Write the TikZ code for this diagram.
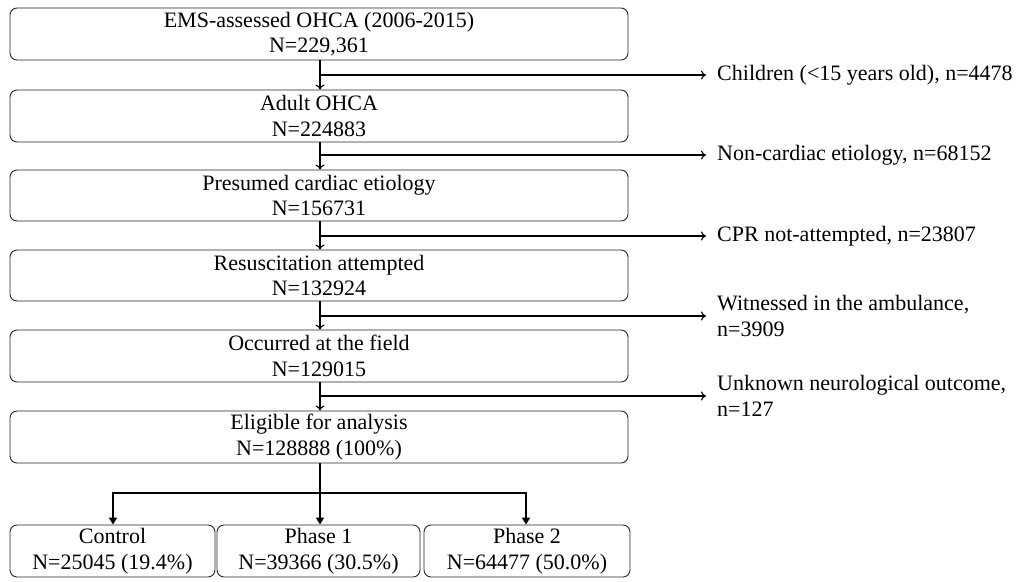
\documentclass[tikz,border=0pt]{standalone}
\usepackage{fontspec}
\setmainfont{Liberation Serif}
\usetikzlibrary{arrows.meta}
\begin{document}
\begin{tikzpicture}[x=1pt,y=-1pt,
  box/.style={draw=black!85, line width=0.9pt, rounded corners=7pt, align=center, inner sep=0pt,
    font=\fontsize{22}{25.5}\selectfont, execute at begin node={\rule{0pt}{24pt}}},
  side/.style={anchor=west, align=left, inner sep=0pt, inner xsep=0pt,
    font=\fontsize{22}{26}\selectfont},
  arr/.style={line width=1.1pt, -{To[length=5pt,width=9pt]}},
  barr/.style={line width=2pt, -{Triangle[length=7pt,width=8pt]}}]
\useasboundingbox (0,0) rectangle (1016,581);
% main boxes
\node[box, minimum width=618pt, minimum height=52pt] (b1) at (319,34) {EMS-assessed OHCA (2006-2015)\\N=229,361};
\node[box, minimum width=618pt, minimum height=52pt] (b2) at (319,116) {Adult OHCA\\N=224883};
\node[box, minimum width=618pt, minimum height=51pt] (b3) at (319,195.5) {Presumed cardiac etiology\\N=156731};
\node[box, minimum width=618pt, minimum height=51pt] (b4) at (319,275.5) {Resuscitation attempted\\N=132924};
\node[box, minimum width=618pt, minimum height=52pt] (b5) at (319,356) {Occurred at the field\\N=129015};
\node[box, minimum width=618pt, minimum height=52pt] (b6) at (319,437) {Eligible for analysis\\N=128888 (100\%)};
% bottom boxes
\node[box, minimum width=205pt, minimum height=52pt] (c1) at (112.5,551) {Control\\N=25045 (19.4\%)};
\node[box, minimum width=203pt, minimum height=52pt] (c2) at (318.5,551) {Phase 1\\N=39366 (30.5\%)};
\node[box, minimum width=206pt, minimum height=52pt] (c3) at (527,551) {Phase 2\\N=64477 (50.0\%)};
% side texts
\node[side] (s1) at (717,75) {Children (<15 years old), n=4478};
\node[side] (s2) at (717,155) {Non-cardiac etiology, n=68152};
\node[side] (s3) at (717,236) {CPR not-attempted, n=23807};
\node[side] (s4) at (717,316) {Witnessed in the ambulance,\\n=3909};
\node[side] (s5) at (717,396) {Unknown neurological outcome,\\n=127};
% junctions
\coordinate (j1) at (320,75);
\coordinate (j2) at (320,155);
\coordinate (j3) at (320,236);
\coordinate (j4) at (320,316);
\coordinate (j5) at (320,396);
\coordinate (sp) at (320,493);
% main flow
\draw[arr] (b1.south -| j1) -- (b2.north -| j1);
\draw[arr] (b2.south -| j1) -- (b3.north -| j1);
\draw[arr] (b3.south -| j1) -- (b4.north -| j1);
\draw[arr] (b4.south -| j1) -- (b5.north -| j1);
\draw[arr] (b5.south -| j1) -- (b6.north -| j1);
% exclusions
\draw[arr] (j1) -- ([xshift=-11pt]s1.west);
\draw[arr] (j2) -- ([xshift=-11pt]s2.west);
\draw[arr] (j3) -- ([xshift=-11pt]s3.west);
\draw[arr] (j4) -- ([xshift=-11pt]s4.west);
\draw[arr] (j5) -- ([xshift=-11pt]s5.west);
% split
\draw[line width=2pt] (b6.south -| sp) -- (sp);
\draw[barr] (sp) -| (c1.north -| 113,0);
\draw[barr] (sp) -- (c2.north -| sp);
\draw[barr] (sp) -| (c3.north -| 526,0);
\end{tikzpicture}
\end{document}
